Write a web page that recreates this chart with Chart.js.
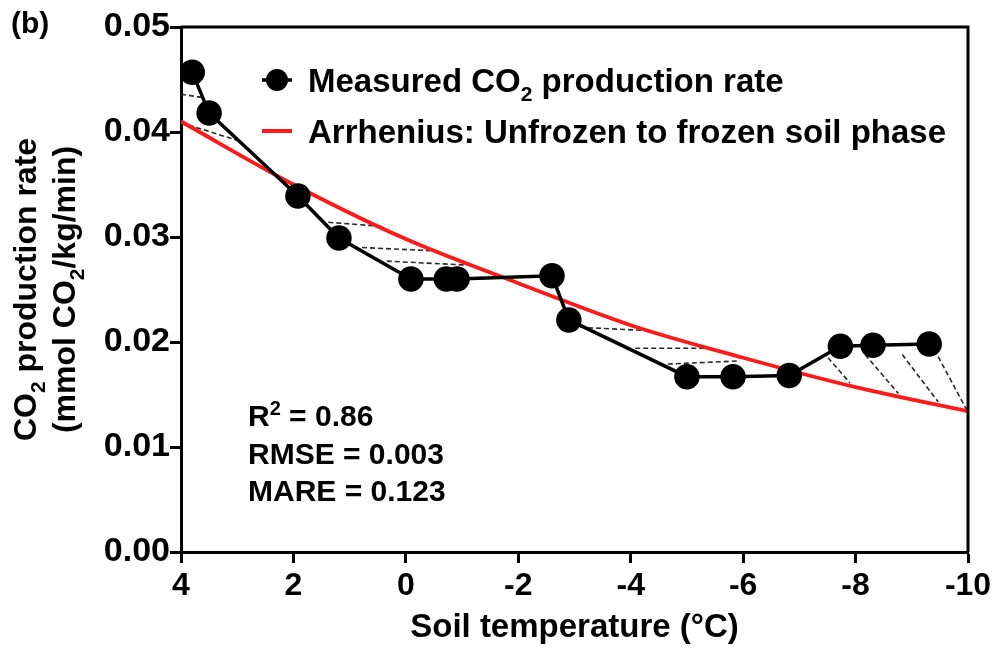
<!DOCTYPE html>
<html>
<head>
<meta charset="utf-8">
<script src="https://cdn.jsdelivr.net/npm/chart.js@4.4.1/dist/chart.umd.min.js"></script>
<style>
    html, body { margin: 0; padding: 0; background: #fff; }
    #wrap { width: 998px; height: 656px; }
</style>
</head>
<body>
<div id="wrap"><canvas id="co2Chart" width="998" height="656"></canvas></div>
<script>
// measured CO2 production rate vs soil temperature
const tempMeasured = [3.80, 3.50, 1.92, 1.19, -0.09, -0.72, -0.91, -2.60, -2.90, -5.00, -5.82, -6.82, -7.73, -8.31, -9.31];
const rateMeasured = [0.0457, 0.0418, 0.0339, 0.0299, 0.0260, 0.0260, 0.0260, 0.0263, 0.0221, 0.0167, 0.0167, 0.0168, 0.0196, 0.0197, 0.0198];

// Arrhenius curve
const fitTemp = [4, 2, 0, -2, -4, -6, -8, -10];
const fitRate = [0.0410, 0.0350, 0.0298, 0.0256, 0.0216, 0.0185, 0.0157, 0.0134];

// dashed hatch segments between measured line and curve
const hatchX1 = [4, 4, 1.38, 0.78, 0.34, -3.10, -4.08, -4.66, -7.51, -8.17, -8.83, -9.47];
const hatchY1 = [0.0436, 0.0409, 0.0314, 0.0290, 0.0277, 0.0214, 0.0194, 0.0179, 0.0185, 0.0188, 0.0188, 0.0186];
const hatchX2 = [3.63, 3.0, 0.41, -0.43, -1.19, -4.25, -5.32, -5.94, -7.90, -8.76, -9.47, -10];
const hatchY2 = [0.0433, 0.0392, 0.0310, 0.0287, 0.0273, 0.0211, 0.0194, 0.0182, 0.0161, 0.0151, 0.0143, 0.0133];

const xTicks = [4, 2, 0, -2, -4, -6, -8, -10];
const yTicks = [0, 0.01, 0.02, 0.03, 0.04, 0.05];

const statLines = ['R|2| = 0.86', 'RMSE = 0.003', 'MARE = 0.123'];

const FONT = '"Liberation Sans", Arial, Helvetica, sans-serif';

// '_x_' subscript, '|x|' superscript
function richParts(str) {
    const parts = [];
    const re = /(_[^_]+_|\|[^|]+\|)/g;
    let last = 0, m;
    while ((m = re.exec(str)) !== null) {
        if (m.index > last) parts.push({ t: str.slice(last, m.index), s: 0 });
        parts.push({ t: m[0].slice(1, -1), s: m[0][0] === '_' ? 1 : -1 });
        last = m.index + m[0].length;
    }
    if (last < str.length) parts.push({ t: str.slice(last), s: 0 });
    return parts;
}

function drawRich(ctx, str, x, y, size, align) {
    const parts = richParts(str);
    const small = Math.round(size * 0.65);
    let total = 0;
    parts.forEach(p => {
        ctx.font = 'bold ' + (p.s ? small : size) + 'px ' + FONT;
        p.w = ctx.measureText(p.t).width;
        total += p.w;
    });
    let cx = align === 'center' ? x - total / 2 : x;
    ctx.textAlign = 'left';
    parts.forEach(p => {
        ctx.font = 'bold ' + (p.s ? small : size) + 'px ' + FONT;
        let dy = 0;
        if (p.s === 1) dy = size * 0.28;
        if (p.s === -1) dy = -size * 0.38;
        ctx.fillText(p.t, cx, y + dy);
        cx += p.w;
    });
}

const decorPlugin = {
    id: 'decor',
    afterDraw(chart) {
        const ctx = chart.ctx;
        const a = chart.chartArea;
        ctx.save();
        // frame top + right
        ctx.strokeStyle = '#000';
        ctx.lineWidth = 3;
        ctx.beginPath();
        ctx.moveTo(a.left, a.top);
        ctx.lineTo(a.right, a.top);
        ctx.lineTo(a.right, a.bottom);
        ctx.stroke();

        ctx.fillStyle = '#000';
        ctx.textBaseline = 'alphabetic';

        // panel label
        ctx.font = 'bold 30px ' + FONT;
        ctx.textAlign = 'left';
        ctx.fillText('(b)', 11, 33);

        // legend
        const lx = a.left + 81, tx = a.left + 127;
        const y1 = a.top + 53, y2 = a.top + 104;
        ctx.lineWidth = 3.5;
        ctx.beginPath();
        ctx.moveTo(lx, y1);
        ctx.lineTo(lx + 30, y1);
        ctx.stroke();
        ctx.beginPath();
        ctx.arc(lx + 15, y1, 11, 0, Math.PI * 2);
        ctx.fill();
        ctx.strokeStyle = '#ff1a1a';
        ctx.lineWidth = 4;
        ctx.beginPath();
        ctx.moveTo(lx, y2);
        ctx.lineTo(lx + 30, y2);
        ctx.stroke();
        drawRich(ctx, 'Measured CO_2_ production rate', tx, y1 + 12, 33, 'left');
        drawRich(ctx, 'Arrhenius: Unfrozen to frozen soil phase', tx, y2 + 12, 33, 'left');

        // fit statistics
        statLines.forEach((s, i) => {
            drawRich(ctx, s, a.left + 67, 426 + i * 37.5, 30, 'left');
        });

        // y axis title (two lines, rotated)
        const cy = (a.top + a.bottom) / 2;
        ctx.translate(0, cy);
        ctx.rotate(-Math.PI / 2);
        drawRich(ctx, 'CO_2_ production rate', 0, 36, 32, 'center');
        drawRich(ctx, '(mmol CO_2_/kg/min)', 0, 75, 32, 'center');
        ctx.restore();
    }
};

const hatchSets = hatchX1.map((x1, i) => ({
    data: [{ x: x1, y: hatchY1[i] }, { x: hatchX2[i], y: hatchY2[i] }],
    showLine: true,
    borderColor: '#2a2a2a',
    borderWidth: 1.6,
    borderDash: [5, 3],
    pointRadius: 0,
    order: 3
}));

new Chart(document.getElementById('co2Chart'), {
    type: 'scatter',
    data: {
        datasets: [
            {
                label: 'Measured CO2 production rate',
                data: tempMeasured.map((t, i) => ({ x: t, y: rateMeasured[i] })),
                showLine: true,
                borderColor: '#000',
                backgroundColor: '#000',
                borderWidth: 3.5,
                pointRadius: 11,
                pointHoverRadius: 11,
                order: 1
            },
            {
                label: 'Arrhenius: Unfrozen to frozen soil phase',
                data: fitTemp.map((t, i) => ({ x: t, y: fitRate[i] })),
                showLine: true,
                borderColor: '#ff1a1a',
                borderWidth: 3.8,
                cubicInterpolationMode: 'monotone',
                pointRadius: 0,
                order: 2
            },
            ...hatchSets
        ]
    },
    options: {
        responsive: false,
        animation: false,
        devicePixelRatio: 1,
        layout: { padding: { left: 0, right: 30, top: 27, bottom: 0 } },
        plugins: {
            legend: { display: false },
            tooltip: { enabled: false }
        },
        scales: {
            x: {
                type: 'linear',
                reverse: true,
                min: -10,
                max: 4,
                afterFit: s => { s.height = 104; },
                afterBuildTicks: s => { s.ticks = xTicks.map(v => ({ value: v })); },
                border: { color: '#000', width: 3 },
                grid: { drawOnChartArea: false, tickLength: 11, tickWidth: 3, tickColor: '#000' },
                ticks: {
                    color: '#000',
                    padding: 4,
                    maxRotation: 0,
                    font: { family: FONT, size: 32, weight: 'bold' },
                    callback: v => String(v)
                },
                title: {
                    display: true,
                    text: 'Soil temperature (°C)',
                    color: '#000',
                    font: { family: FONT, size: 33, weight: 'bold' },
                    padding: { top: 0, bottom: 8 }
                }
            },
            y: {
                type: 'linear',
                min: 0,
                max: 0.05,
                afterFit: s => { s.width = 181; },
                afterBuildTicks: s => { s.ticks = yTicks.map(v => ({ value: v })); },
                border: { color: '#000', width: 3 },
                grid: { drawOnChartArea: false, tickLength: 11, tickWidth: 3, tickColor: '#000' },
                ticks: {
                    color: '#000',
                    padding: 0,
                    font: { family: FONT, size: 34, weight: 'bold' },
                    callback: v => Number(v).toFixed(2)
                }
            }
        }
    },
    plugins: [decorPlugin]
});
</script>
</body>
</html>
